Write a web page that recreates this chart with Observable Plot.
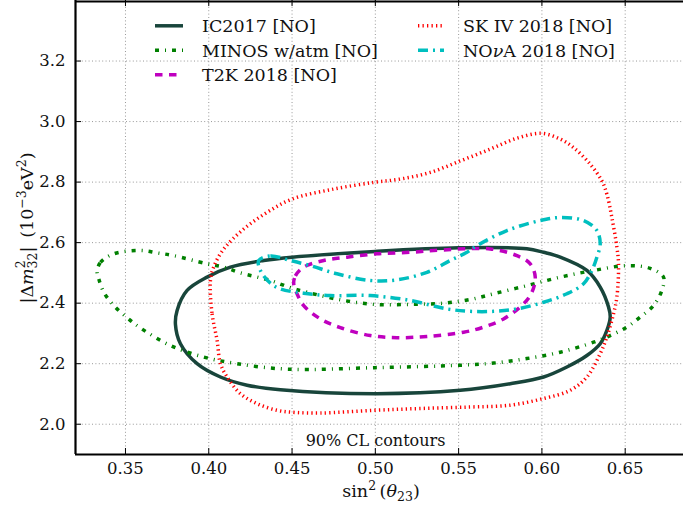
<!DOCTYPE html>
<html><head><meta charset="utf-8">
<script src="https://cdn.jsdelivr.net/npm/d3@7"></script>
<script src="https://cdn.jsdelivr.net/npm/@observablehq/plot@0.6"></script>
<style>body{margin:0;background:#fff} svg{display:block}</style>
</head><body><div id="chart"></div>
<script>
// ---- data ----
const xTicks = [0.35, 0.40, 0.45, 0.50, 0.55, 0.60, 0.65];
const yTicks = [2.0, 2.2, 2.4, 2.6, 2.8, 3.0, 3.2];
const xDomain = [0.32, 0.685];
const yDomain = [1.9, 3.4];

const ic2017 = [[0.380,2.33],[0.381,2.376],[0.387,2.442],[0.399,2.486],[0.413,2.519],[0.433,2.541],[0.45,2.552],[0.50,2.571],[0.55,2.583],[0.591,2.580],[0.601,2.568],[0.611,2.552],[0.627,2.508],[0.635,2.453],[0.640,2.387],[0.641,2.354],[0.639,2.31],[0.635,2.266],[0.627,2.227],[0.615,2.189],[0.601,2.156],[0.581,2.134],[0.551,2.112],[0.50,2.101],[0.443,2.114],[0.423,2.129],[0.407,2.156],[0.393,2.2],[0.383,2.266]];
const minos = [[0.333,2.505],[0.335,2.535],[0.343,2.563],[0.359,2.574],[0.369,2.566],[0.379,2.557],[0.399,2.53],[0.409,2.519],[0.419,2.5],[0.437,2.475],[0.449,2.451],[0.459,2.436],[0.479,2.411],[0.499,2.396],[0.521,2.396],[0.541,2.4],[0.557,2.412],[0.571,2.431],[0.591,2.458],[0.611,2.486],[0.631,2.508],[0.651,2.524],[0.665,2.515],[0.673,2.486],[0.672,2.442],[0.667,2.392],[0.659,2.354],[0.651,2.321],[0.641,2.293],[0.631,2.271],[0.611,2.238],[0.591,2.217],[0.571,2.202],[0.551,2.195],[0.50,2.187],[0.447,2.182],[0.417,2.2],[0.397,2.222],[0.377,2.26],[0.359,2.318],[0.351,2.352],[0.343,2.392],[0.337,2.436],[0.334,2.480]];
const t2k = [[0.451,2.464],[0.452,2.490],[0.457,2.519],[0.469,2.541],[0.483,2.552],[0.501,2.563],[0.521,2.568],[0.541,2.576],[0.569,2.579],[0.585,2.557],[0.593,2.53],[0.596,2.486],[0.594,2.436],[0.589,2.398],[0.577,2.348],[0.565,2.321],[0.553,2.304],[0.531,2.29],[0.513,2.286],[0.497,2.293],[0.479,2.319],[0.467,2.348],[0.457,2.392],[0.453,2.431]];
const sk2018 = [[0.401,2.475],[0.402,2.365],[0.405,2.277],[0.407,2.2],[0.411,2.156],[0.419,2.101],[0.429,2.068],[0.441,2.046],[0.452,2.039],[0.467,2.037],[0.499,2.046],[0.527,2.052],[0.557,2.057],[0.581,2.063],[0.601,2.085],[0.617,2.112],[0.627,2.156],[0.635,2.233],[0.639,2.288],[0.643,2.365],[0.645,2.42],[0.646,2.53],[0.645,2.585],[0.642,2.683],[0.639,2.76],[0.636,2.804],[0.629,2.859],[0.619,2.914],[0.611,2.942],[0.600,2.961],[0.585,2.945],[0.569,2.909],[0.551,2.87],[0.533,2.832],[0.515,2.81],[0.499,2.799],[0.475,2.777],[0.450,2.744],[0.435,2.7],[0.421,2.645],[0.409,2.579],[0.403,2.52]];
const nova = [[0.430,2.541],[0.437,2.556],[0.449,2.541],[0.461,2.524],[0.477,2.497],[0.497,2.475],[0.513,2.477],[0.531,2.502],[0.545,2.541],[0.555,2.568],[0.561,2.59],[0.579,2.64],[0.599,2.673],[0.611,2.683],[0.625,2.673],[0.633,2.64],[0.635,2.596],[0.633,2.552],[0.630,2.508],[0.625,2.464],[0.615,2.431],[0.601,2.403],[0.585,2.381],[0.571,2.373],[0.557,2.373],[0.543,2.381],[0.521,2.409],[0.497,2.425],[0.473,2.425],[0.457,2.433],[0.443,2.447],[0.437,2.466],[0.431,2.508]];

const labels = ["IC2017 [NO]", "MINOS w/atm [NO]", "T2K 2018 [NO]", "SK IV 2018 [NO]", "NOνA 2018 [NO]"];
const datasets = [ic2017, minos, t2k, sk2018, nova];

// ---- styles ----
const styles = [
  {stroke: "#18453b", width: 3.5, dash: null},
  {stroke: "#008000", width: 3.5, dash: "4,6,1,6"},
  {stroke: "#bf00bf", width: 3.5, dash: "7.5,6.5"},
  {stroke: "#ff0000", width: 3.5, dash: "1.3,3.2"},
  {stroke: "#00bfbf", width: 3.5, dash: "10,5,2,5"}
];

const W = 683, H = 511, mL = 75, mR = 0, mT = 0, mB = 57;
const kx = (xDomain[1] - xDomain[0]) / (W - mL - mR);
const ky = (yDomain[1] - yDomain[0]) / (H - mT - mB);
const tickLen = 6;
const FONT = "'DejaVu Serif', serif";

const marks = [
  Plot.gridX(xTicks, {stroke: "#000", strokeOpacity: 0.45, strokeDasharray: "1,2.4", strokeWidth: 0.9}),
  Plot.gridY(yTicks, {stroke: "#000", strokeOpacity: 0.45, strokeDasharray: "1,2.4", strokeWidth: 0.9}),
  ...datasets.map((data, i) => Plot.line(data, {
    x: d => d[0], y: d => d[1], curve: "catmull-rom-closed",
    stroke: styles[i].stroke, strokeWidth: styles[i].width,
    strokeDasharray: styles[i].dash, strokeLinecap: "butt", strokeLinejoin: "round"
  })),
  Plot.ruleX(xTicks, {y1: yDomain[0], y2: yDomain[0] + tickLen * ky, stroke: "#000", strokeWidth: 1}),
  Plot.ruleX(xTicks, {y1: yDomain[1], y2: yDomain[1] - tickLen * ky, stroke: "#000", strokeWidth: 1}),
  Plot.ruleY(yTicks, {x1: xDomain[0], x2: xDomain[0] + tickLen * kx, stroke: "#000", strokeWidth: 1}),
  Plot.ruleY([yDomain[0]], {stroke: "#000", strokeWidth: 2.2}),
  Plot.ruleY([yDomain[1]], {stroke: "#000", strokeWidth: 2.2, dy: 1}),
  Plot.ruleX([xDomain[0]], {stroke: "#000", strokeWidth: 2.2}),
  // tick labels
  Plot.text(xTicks, {x: d => d, text: d3.format(".2f"), frameAnchor: "bottom", lineAnchor: "top", dy: 8, fontSize: 16.5, fontFamily: FONT, fill: "#111"}),
  Plot.text(yTicks, {y: d => d, text: d3.format(".1f"), frameAnchor: "left", textAnchor: "end", dx: -10, fontSize: 16.5, fontFamily: FONT, fill: "#111"}),
  Plot.text(["90% CL contours"], {text: d => d, frameAnchor: "bottom", lineAnchor: "bottom", dx: -4, dy: -9, fontSize: 16, fontFamily: FONT, fill: "#111"})
];

const svg = Plot.plot({
  width: W, height: H,
  marginLeft: mL, marginRight: mR, marginTop: mT, marginBottom: mB,
  x: {domain: xDomain, axis: null},
  y: {domain: yDomain, axis: null},
  style: {fontFamily: FONT, fontSize: "16px", background: "white", color: "#111"},
  marks
});

// ---- legend & axis labels ----
const s = d3.select(svg);
const lg = s.append("g").attr("font-family", FONT).attr("font-size", 17.5).attr("fill", "#111").attr("text-anchor", "start");
const colHandle = [[155, 183], [418, 444]];
const colText = [202, 463];
const rowBase = [32.3, 56.7, 81.2];
labels.forEach((lab, i) => {
  const col = i < 3 ? 0 : 1, row = i < 3 ? i : i - 3;
  const yb = rowBase[row];
  lg.append("line")
    .attr("x1", colHandle[col][0]).attr("x2", colHandle[col][1])
    .attr("y1", yb - 6.5).attr("y2", yb - 6.5)
    .attr("stroke", styles[i].stroke).attr("stroke-width", styles[i].width)
    .attr("stroke-dasharray", styles[i].dash).attr("stroke-linecap", "butt");
  const t = lg.append("text").attr("x", colText[col]).attr("y", yb).attr("text-anchor", "start");
  if (lab.includes("ν")) {
    const [a, b] = lab.split("ν");
    t.append("tspan").text(a);
    t.append("tspan").attr("font-style", "italic").text("ν");
    t.append("tspan").text(b);
  } else t.text(lab);
});

// x label: sin^2(θ_23)
const xl = s.append("text").attr("x", 381).attr("y", 497).attr("text-anchor", "middle")
  .attr("font-family", FONT).attr("font-size", 17.5).attr("fill", "#111");
xl.append("tspan").text("sin");
xl.append("tspan").attr("font-size", 12.5).attr("dy", -7).text("2");
xl.append("tspan").attr("dy", 7).text("\u2009(");
xl.append("tspan").attr("font-style", "italic").text("θ");
xl.append("tspan").attr("font-size", 12.5).attr("dy", 4).text("23");
xl.append("tspan").attr("dy", -4).text(")");

// y label: |Δm^2_32| (10^-3 eV^2)
const yl = s.append("text").attr("transform", "translate(33,228) rotate(-90)").attr("text-anchor", "middle")
  .attr("font-family", FONT).attr("font-size", 17.5).attr("fill", "#111");
yl.append("tspan").text("|Δ");
yl.append("tspan").attr("font-style", "italic").text("m");
yl.append("tspan").attr("font-size", 12.5).attr("dy", -8).text("2");
yl.append("tspan").attr("font-size", 12.5).attr("dx", -8).attr("dy", 12).text("32");
yl.append("tspan").attr("dy", -4).text("|\u2002(10");
yl.append("tspan").attr("font-size", 12.5).attr("dy", -7).text("−3");
yl.append("tspan").attr("dy", 7).text("eV");
yl.append("tspan").attr("font-size", 12.5).attr("dy", -7).text("2");
yl.append("tspan").attr("dy", 7).text(")");

document.getElementById("chart").appendChild(svg);
</script>
</body></html>
